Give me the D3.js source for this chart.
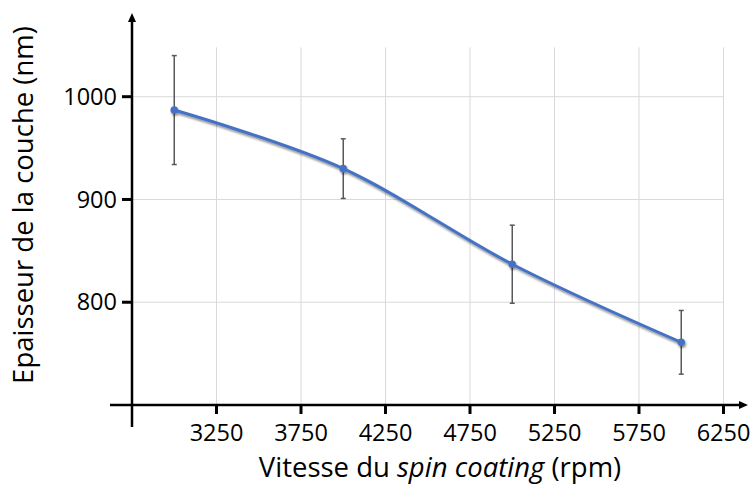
<!DOCTYPE html>
<html>
<head>
<meta charset="utf-8">
<script src="https://cdn.jsdelivr.net/npm/d3@7"></script>
<style>
  html, body { margin: 0; padding: 0; background: #fff; }
  svg { display: block; font-family: "Open Sans", sans-serif; }
</style>
</head>
<body>
<svg id="chart" width="755" height="484"></svg>
<script>
// ---- data ----
const speeds = [3000, 4000, 5000, 6000];          // rpm
const thickness = [987, 930, 837, 761];           // nm
const errors = [53, 29, 38, 31];                  // nm
const xTicks = [3250, 3750, 4250, 4750, 5250, 5750, 6250];
const yTicks = [800, 900, 1000];
const xTitleParts = [["Vitesse du ", "normal"], ["spin coating", "italic"], [" (rpm)", "normal"]];
const yTitle = "Epaisseur de la couche (nm)";

const svg = d3.select("#chart");
const x = d3.scaleLinear().domain([2750, 6250]).range([132, 723.5]);
const y = d3.scaleLinear().domain([700, 1000]).range([405, 96.7]);
const gridTop = y(1048);

const defs = svg.append("defs");
const f = defs.append("filter").attr("id", "shadow").attr("x", "-10%").attr("y", "-10%").attr("width", "120%").attr("height", "130%");
f.append("feGaussianBlur").attr("in", "SourceAlpha").attr("stdDeviation", 1.2);
f.append("feOffset").attr("dx", 1).attr("dy", 1.5).attr("result", "ob");
f.append("feComponentTransfer").append("feFuncA").attr("type", "linear").attr("slope", 0.45);
const m = f.append("feMerge");
m.append("feMergeNode");
m.append("feMergeNode").attr("in", "SourceGraphic");

// grid
svg.append("g").selectAll("line").data(xTicks).join("line")
  .attr("x1", d => x(d)).attr("x2", d => x(d))
  .attr("y1", gridTop).attr("y2", y(700))
  .attr("stroke", "#d9d9d9").attr("stroke-width", 1);
svg.append("g").selectAll("line").data(yTicks).join("line")
  .attr("x1", x(2750)).attr("x2", x(6250))
  .attr("y1", d => y(d)).attr("y2", d => y(d))
  .attr("stroke", "#d9d9d9").attr("stroke-width", 1);

// axes
const axisG = svg.append("g");
axisG.append("line").attr("x1", 110).attr("x2", 742).attr("y1", y(700)).attr("y2", y(700))
  .attr("stroke", "#000").attr("stroke-width", 2.5);
axisG.append("path").attr("d", `M748,${y(700)} L739,${y(700)-4} L739,${y(700)+4} Z`).attr("fill", "#000");
axisG.append("line").attr("x1", x(2750)).attr("x2", x(2750)).attr("y1", 427).attr("y2", 20)
  .attr("stroke", "#000").attr("stroke-width", 2.5);
axisG.append("path").attr("d", `M${x(2750)},13 L${x(2750)-4},22 L${x(2750)+4},22 Z`).attr("fill", "#000");

// ticks
axisG.selectAll(".xt").data(xTicks).join("line").attr("class", "xt")
  .attr("x1", d => x(d)).attr("x2", d => x(d)).attr("y1", y(700)).attr("y2", y(700) + 9)
  .attr("stroke", "#000").attr("stroke-width", 3);
axisG.selectAll(".yt").data(yTicks).join("line").attr("class", "yt")
  .attr("x1", x(2750) - 10).attr("x2", x(2750)).attr("y1", d => y(d)).attr("y2", d => y(d))
  .attr("stroke", "#000").attr("stroke-width", 3);

axisG.selectAll(".xl").data(xTicks).join("text").attr("class", "xl")
  .attr("x", d => x(d)).attr("y", 441).attr("text-anchor", "middle")
  .attr("font-size", 23.5).attr("fill", "#000").text(d => d);
axisG.selectAll(".yl").data(yTicks).join("text").attr("class", "yl")
  .attr("x", 117).attr("y", d => y(d)).attr("dy", "0.35em").attr("text-anchor", "end")
  .attr("font-size", 23.5).attr("fill", "#000").text(d => d);

// titles
const xt = svg.append("text").attr("x", 440).attr("y", 477).attr("text-anchor", "middle")
  .attr("font-size", 27.5).attr("fill", "#000");
xt.selectAll("tspan").data(xTitleParts).join("tspan")
  .attr("font-style", d => d[1]).text(d => d[0]);
svg.append("text").attr("transform", "translate(33,205) rotate(-90)")
  .attr("text-anchor", "middle").attr("font-size", 27.5).attr("fill", "#000").text(yTitle);

// error bars
const data = speeds.map((s, i) => ({s, t: thickness[i], e: errors[i]}));
const eb = svg.append("g").attr("stroke", "#595959").attr("stroke-width", 1.5);
eb.selectAll(".v").data(data).join("line").attr("class", "v")
  .attr("x1", d => x(d.s)).attr("x2", d => x(d.s)).attr("y1", d => y(d.t + d.e)).attr("y2", d => y(d.t - d.e));
eb.selectAll(".c1").data(data).join("line").attr("class", "c1")
  .attr("x1", d => x(d.s) - 2.5).attr("x2", d => x(d.s) + 2.5).attr("y1", d => y(d.t + d.e)).attr("y2", d => y(d.t + d.e));
eb.selectAll(".c2").data(data).join("line").attr("class", "c2")
  .attr("x1", d => x(d.s) - 2.5).attr("x2", d => x(d.s) + 2.5).attr("y1", d => y(d.t - d.e)).attr("y2", d => y(d.t - d.e));

// line + markers
const series = svg.append("g").attr("filter", "url(#shadow)");
const line = d3.line().x(d => x(d.s)).y(d => y(d.t)).curve(d3.curveCardinal.tension(0));
series.append("path").datum(data).attr("d", line)
  .attr("fill", "none").attr("stroke", "#4472C4").attr("stroke-width", 3).attr("stroke-linecap", "round");
series.selectAll("circle").data(data).join("circle")
  .attr("cx", d => x(d.s)).attr("cy", d => y(d.t)).attr("r", 3.8).attr("fill", "#4472C4");
</script>
</body>
</html>
